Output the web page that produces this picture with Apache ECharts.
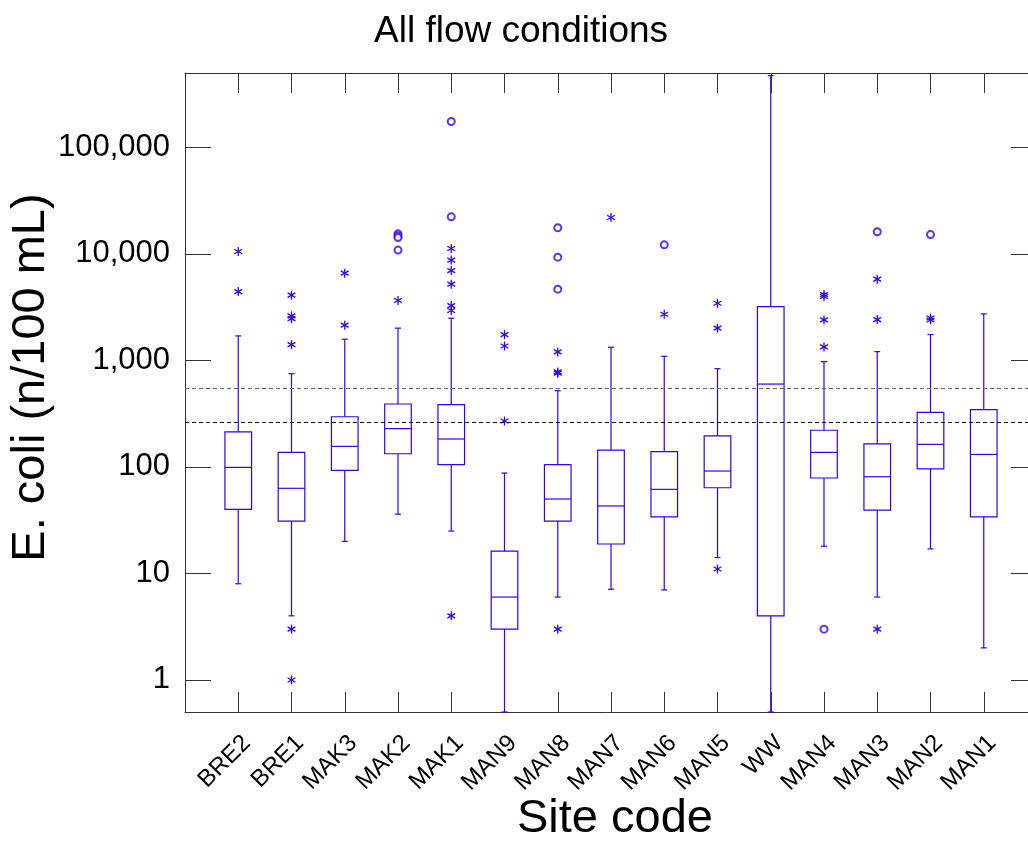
<!DOCTYPE html>
<html>
<head>
<meta charset="utf-8">
<script src="https://cdn.jsdelivr.net/npm/echarts@6/dist/echarts.min.js"></script>
<style>
  html, body { margin: 0; padding: 0; background: #fff; }
  #chart { width: 1028px; height: 841px; }
</style>
</head>
<body>
<div id="chart"></div>
<script>
// ---- Data ----
const categories = ['BRE2','BRE1','MAK3','MAK2','MAK1','MAN9','MAN8','MAN7','MAN6','MAN5','WW','MAN4','MAN3','MAN2','MAN1'];
const whiskerLow  = [8,    4,    20,   36,   25,   0.5,  6,    7.1,  7,    14.1, 0.5,    18,   6,    17,   2];
const q1          = [40,   31,   93,   133,  105,  3,    31,   18.9, 34,   63.8, 4,      78.7, 39.3, 96,   34];
const median      = [99,   63,   156,  229,  183,  6,    50,   43,   61.6, 91.5, 600,    137,  80.9, 163,  131];
const q3          = [213,  137,  296,  390,  384,  16.2, 105,  144,  139,  196,  3205,   221,  165,  326,  345];
const whiskerHigh = [1700, 751,  1582, 2010, 2490, 87.6, 520,  1331, 1094, 837,  472000, 974,  1210, 1749, 2735];

// Far outliers (open circles), per site
const circleOutliers = [
  [], [], [], [15450, 14800, 14250, 10860], [175000, 22300], [], [17600, 9330, 4670], [],
  [12170], [], [], [3.0], [16140], [15200], []
];
// Outside values (asterisks), per site
const starOutliers = [
  [10540, 4430],
  [4100, 2620, 2470, 1408, 3.0, 1.0],
  [6600, 2143],
  [3650],
  [11240, 8750, 6980, 5200, 3275, 2940, 4.0],
  [1749, 1368, 270],
  [1202, 780, 760, 3.0],
  [22000],
  [2717],
  [3445, 2010, 11.0],
  [],
  [4150, 3980, 2403, 1340],
  [5800, 2417, 3.0],
  [2500, 2400],
  []
];
// Guideline thresholds (dashed lines)
const thresholds = [550, 260];
const yTickValues = [1, 10, 100, 1000, 10000, 100000];

// ---- Build chart ----
const BLUE = '#3300ff';
const FONT = 'Liberation Sans, Arial, Helvetica, sans-serif';

const boxData = categories.map((c, i) => [i + 1, whiskerLow[i], q1[i], median[i], q3[i], whiskerHigh[i]]);
const circleData = circleOutliers.flatMap((arr, i) => arr.map(v => [i + 1, v]));
const starData = starOutliers.flatMap((arr, i) => arr.map(v => [i + 1, v]));

function renderBox(params, api) {
  const x = api.value(0);
  const lo = api.coord([x, api.value(1)]);
  const b1 = api.coord([x, api.value(2)]);
  const md = api.coord([x, api.value(3)]);
  const b3 = api.coord([x, api.value(4)]);
  const hi = api.coord([x, api.value(5)]);
  const hw = (api.coord([x + 0.25, api.value(3)])[0] - md[0]);
  const cx = md[0];
  const cap = 3;
  const style = { stroke: BLUE, lineWidth: 1.2, fill: null };
  return {
    type: 'group',
    children: [
      { type: 'rect', shape: { x: cx - hw, y: b3[1], width: 2 * hw, height: b1[1] - b3[1] }, style: style },
      { type: 'line', shape: { x1: cx - hw, y1: md[1], x2: cx + hw, y2: md[1] }, style: style },
      { type: 'line', shape: { x1: cx, y1: b3[1], x2: cx, y2: hi[1] }, style: style },
      { type: 'line', shape: { x1: cx, y1: b1[1], x2: cx, y2: lo[1] }, style: style },
      { type: 'line', shape: { x1: cx - cap, y1: hi[1], x2: cx + cap, y2: hi[1] }, style: style },
      { type: 'line', shape: { x1: cx - cap, y1: lo[1], x2: cx + cap, y2: lo[1] }, style: style }
    ]
  };
}

function renderStar(params, api) {
  const p = api.coord([api.value(0), api.value(1)]);
  const r = 4.5;
  const dx = r * Math.cos(Math.PI / 6), dy = r * Math.sin(Math.PI / 6);
  const style = { stroke: BLUE, lineWidth: 1.3 };
  return {
    type: 'group',
    children: [
      { type: 'line', shape: { x1: p[0], y1: p[1] - r, x2: p[0], y2: p[1] + r }, style: style },
      { type: 'line', shape: { x1: p[0] - dx, y1: p[1] - dy, x2: p[0] + dx, y2: p[1] + dy }, style: style },
      { type: 'line', shape: { x1: p[0] - dx, y1: p[1] + dy, x2: p[0] + dx, y2: p[1] - dy }, style: style }
    ]
  };
}

function isPow10(v) {
  const l = Math.log10(v);
  return Math.abs(l - Math.round(l)) < 1e-6 && yTickValues.indexOf(Math.round(v)) >= 0;
}

const axisColor = '#333';
const chart = echarts.init(document.getElementById('chart'), null, { renderer: 'canvas' });
chart.setOption({
  animation: false,
  backgroundColor: '#fff',
  title: {
    text: 'All flow conditions',
    left: 369,
    top: 8,
    textStyle: { fontFamily: FONT, fontSize: 37, fontWeight: 'normal', color: '#000' }
  },
  grid: { left: 185, top: 73, width: 852, height: 639, outerBoundsMode: 'none', containLabel: false },
  xAxis: [
    {
      type: 'value', position: 'bottom', min: 0, max: 16, interval: 1,
      name: 'Site code', nameLocation: 'middle', nameGap: 84, nameMoveOverlap: false,
      nameTextStyle: { fontFamily: FONT, fontSize: 47, color: '#000', padding: [0, 0, 0, 8] },
      axisLine: { show: true, onZero: false, lineStyle: { color: axisColor, width: 1 } },
      axisTick: { show: true, inside: true, length: 20, lineStyle: { color: axisColor } },
      splitLine: { show: false },
      axisLabel: {
        show: true, rotate: 45, margin: 19, fontFamily: FONT, fontSize: 24, color: '#000',
        verticalAlign: 'top',
        showMinLabel: false, showMaxLabel: false,
        formatter: v => categories[v - 1] || ''
      }
    },
    {
      type: 'value', position: 'top', min: 0, max: 16, interval: 1,
      axisLine: { show: true, onZero: false, lineStyle: { color: axisColor, width: 1 } },
      axisTick: { show: true, inside: true, length: 20, lineStyle: { color: axisColor } },
      splitLine: { show: false },
      axisLabel: { show: false }
    }
  ],
  yAxis: [
    {
      type: 'log', logBase: 10, min: 0.5, max: 500000, position: 'left',
      name: 'E. coli (n/100 mL)', nameLocation: 'middle', nameGap: 130, nameMoveOverlap: false,
      nameTextStyle: { fontFamily: FONT, fontSize: 47, color: '#000', padding: [0, 0, 0, 30] },
      axisLine: { show: true, onZero: false, lineStyle: { color: axisColor, width: 1 } },
      axisTick: { show: true, inside: true, length: 26, lineStyle: { color: axisColor } },
      splitLine: { show: false },
      axisLabel: {
        margin: 15, fontFamily: FONT, fontSize: 31, color: '#000',
        formatter: v => isPow10(v) ? Math.round(v).toLocaleString('en-US') : ''
      }
    },
    {
      type: 'log', logBase: 10, min: 0.5, max: 500000, position: 'right',
      axisLine: { show: true, onZero: false, lineStyle: { color: axisColor, width: 1 } },
      axisTick: { show: true, inside: true, length: 26, lineStyle: { color: axisColor } },
      splitLine: { show: false },
      axisLabel: { show: false }
    }
  ],
  series: [
    {
      type: 'custom', name: 'box', xAxisIndex: 0, yAxisIndex: 0,
      renderItem: renderBox, data: boxData, encode: { x: 0, y: [1, 2, 3, 4, 5] }, z: 3,
      markLine: {
        silent: true, symbol: 'none', label: { show: false },
        data: [
          { yAxis: thresholds[0], lineStyle: { color: '#666', type: [4, 3], width: 1.2 } },
          { yAxis: thresholds[1], lineStyle: { color: '#000', type: [4, 3], width: 1.2 } }
        ]
      }
    },
    {
      type: 'scatter', name: 'far', xAxisIndex: 0, yAxisIndex: 0,
      symbol: 'emptyCircle', symbolSize: 7,
      itemStyle: { color: BLUE, borderColor: BLUE, borderWidth: 1.2 },
      data: circleData, z: 4
    },
    {
      type: 'custom', name: 'outside', xAxisIndex: 0, yAxisIndex: 0,
      renderItem: renderStar, data: starData, encode: { x: 0, y: 1 }, z: 4
    }
  ]
});
</script>
</body>
</html>
